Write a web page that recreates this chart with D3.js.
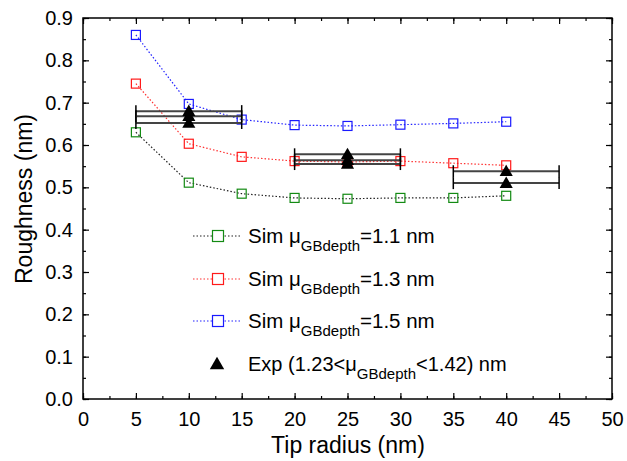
<!DOCTYPE html>
<html>
<head>
<meta charset="utf-8">
<script src="https://cdn.jsdelivr.net/npm/d3@7"></script>
<style>
  html, body { margin: 0; padding: 0; background: #fff; }
  svg text { font-family: "Liberation Sans", Arial, sans-serif; fill: #000; }
</style>
</head>
<body>
<svg id="chart" width="627" height="461"></svg>
<script>
// Tip radius values (nm) of the simulations
const radii = [5, 10, 15, 20, 25, 30, 35, 40];

// Simulated roughness (nm) for three grain-boundary depths
const sim11 = [0.630, 0.511, 0.485, 0.475, 0.473, 0.475, 0.475, 0.480];
const sim13 = [0.745, 0.603, 0.572, 0.562, 0.560, 0.562, 0.557, 0.552];
const sim15 = [0.860, 0.697, 0.660, 0.647, 0.645, 0.648, 0.651, 0.655];

// Experimental roughness with tip radius uncertainty (± nm)
const expRadius = [10, 10, 10, 25, 25, 25, 40, 40];
const expRough  = [0.680, 0.668, 0.652, 0.578, 0.564, 0.555, 0.538, 0.510];
const expErr    = [5, 5, 5, 5, 5, 5, 5, 5];

const xTicks = [0, 5, 10, 15, 20, 25, 30, 35, 40, 45, 50];
const yTicks = [0.0, 0.1, 0.2, 0.3, 0.4, 0.5, 0.6, 0.7, 0.8, 0.9];

const seriesNames = ["1.1", "1.3", "1.5"];
const seriesData = [sim11, sim13, sim15];
const seriesMarker = ["#138a13", "#ff1a1a", "#1a1aff"];
const seriesLine = ["#222222", "#ff3333", "#2222ff"];

const svg = d3.select("#chart");
const L = 83, R = 612, T = 18, B = 399;

const x = d3.scaleLinear().domain([0, 50]).range([L, R]);
const y = d3.scaleLinear().domain([0, 0.9]).range([B, T]);

// Axes with inward ticks on all four sides
const minorX = d3.range(0, 50.01, 2.5);
const minorY = d3.range(0, 0.901, 0.05);

function tickAxis(axis, scale, ticks, minor, transform, labels, pad) {
  const gMinor = svg.append("g").attr("transform", transform)
    .call(axis(scale).tickValues(minor).tickSize(-3).tickFormat(""));
  gMinor.select(".domain").remove();
  gMinor.selectAll("line").attr("stroke", "#000").attr("stroke-width", 1.2);
  const g = svg.append("g").attr("transform", transform)
    .call(axis(scale).tickValues(ticks).tickSize(-6).tickPadding(pad || 3)
      .tickFormat(labels ? labels : ""));
  g.select(".domain").remove();
  g.selectAll("line").attr("stroke", "#000").attr("stroke-width", 1.2);
  g.selectAll("text").style("font-size", "20px")
    .style("font-family", "'Liberation Sans', Arial, sans-serif");
  return g;
}

tickAxis(d3.axisBottom, x, xTicks, minorX, `translate(0,${B})`, d3.format("d"), 13);
tickAxis(d3.axisTop, x, xTicks, minorX, `translate(0,${T})`, null);
tickAxis(d3.axisLeft, y, yTicks, minorY, `translate(${L},0)`, d3.format(".1f"), 10);
tickAxis(d3.axisRight, y, yTicks, minorY, `translate(${R},0)`, null);

svg.append("rect")
  .attr("x", L).attr("y", T).attr("width", R - L).attr("height", B - T)
  .attr("fill", "none").attr("stroke", "#000").attr("stroke-width", 1.5);

// Axis titles
svg.append("text")
  .attr("x", 348).attr("y", 453)
  .attr("text-anchor", "middle").style("font-size", "23px")
  .text("Tip radius (nm)");
svg.append("text")
  .attr("transform", `translate(32,199) rotate(-90)`)
  .attr("text-anchor", "middle").style("font-size", "23px")
  .text("Roughness (nm)");

// Simulated series: dotted lines with open squares
const line = d3.line().x((d, i) => x(radii[i])).y(d => y(d));
seriesData.forEach((vals, k) => {
  svg.append("path").datum(vals)
    .attr("d", line).attr("fill", "none")
    .attr("stroke", seriesLine[k]).attr("stroke-width", 1.2)
    .attr("stroke-dasharray", "1.5,2");
});
seriesData.forEach((vals, k) => {
  svg.append("g").selectAll("rect").data(vals).join("rect")
    .attr("x", (d, i) => x(radii[i]) - 4.5)
    .attr("y", d => y(d) - 4.5)
    .attr("width", 9).attr("height", 9)
    .attr("fill", "none").attr("stroke", seriesMarker[k]).attr("stroke-width", 1.2);
});

// Experimental points with horizontal error bars
const exp = expRough.map((v, i) => ({ r: expRadius[i], v, e: expErr[i] }));
const eb = svg.append("g");
exp.forEach(d => {
  eb.append("line")
    .attr("x1", x(d.r - d.e)).attr("x2", x(d.r + d.e))
    .attr("y1", y(d.v)).attr("y2", y(d.v))
    .attr("stroke", "#444").attr("stroke-width", 2);
  [d.r - d.e, d.r + d.e].forEach(c => {
    eb.append("line")
      .attr("x1", x(c)).attr("x2", x(c))
      .attr("y1", y(d.v) - 6).attr("y2", y(d.v) + 6)
      .attr("stroke", "#000").attr("stroke-width", 1.5);
  });
});
const tri = d3.symbol().type(d3.symbolTriangle).size(75);
svg.append("g").selectAll("path").data(exp).join("path")
  .attr("d", tri)
  .attr("transform", d => `translate(${x(d.r)},${y(d.v) + 1})`)
  .attr("fill", "#000");

// Legend
const legend = svg.append("g");
const rows = [236, 279, 321, 364];
seriesNames.forEach((name, k) => {
  const cy = rows[k];
  legend.append("line")
    .attr("x1", 193).attr("x2", 242).attr("y1", cy).attr("y2", cy)
    .attr("stroke", seriesLine[k]).attr("stroke-width", 1.2)
    .attr("stroke-dasharray", "1.5,2");
  legend.append("rect")
    .attr("x", 212.5).attr("y", cy - 5.5).attr("width", 11).attr("height", 11)
    .attr("fill", "#fff").attr("stroke", seriesMarker[k]).attr("stroke-width", 1.2);
  const t = legend.append("text").attr("x", 248).attr("y", cy + 7).style("font-size", "20.5px");
  t.append("tspan").text("Sim \u03bc");
  t.append("tspan").attr("dy", 8).style("font-size", "15px").text("GBdepth");
  t.append("tspan").attr("dy", -8).text(`=${name} nm`);
});
legend.append("path")
  .attr("d", d3.symbol().type(d3.symbolTriangle).size(90))
  .attr("transform", `translate(217,${rows[3] + 1})`)
  .attr("fill", "#000");
const te = legend.append("text").attr("x", 248).attr("y", rows[3] + 7).style("font-size", "20px");
te.append("tspan").text("Exp (1.23<\u03bc");
te.append("tspan").attr("dy", 8).style("font-size", "15px").text("GBdepth");
te.append("tspan").attr("dy", -8).text("<1.42) nm");
</script>
</body>
</html>
